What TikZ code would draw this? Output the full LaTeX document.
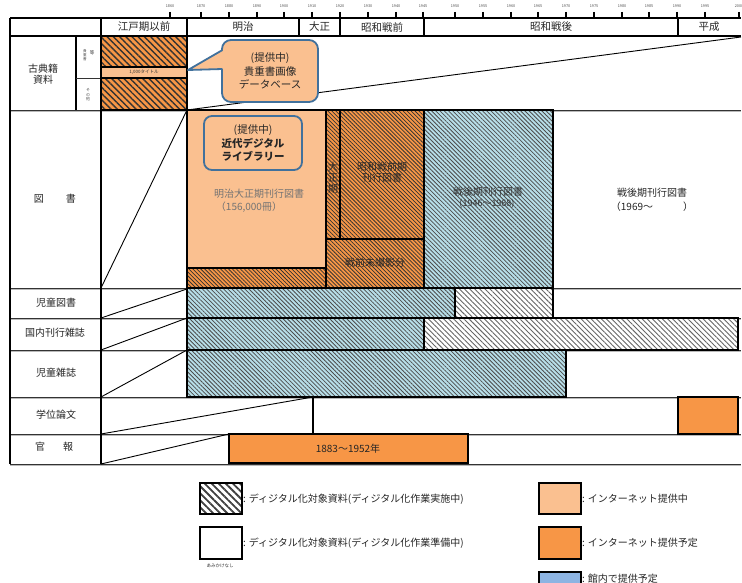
\documentclass[tikz,border=0pt]{standalone}
\usepackage{fontspec}
\setmainfont{Noto Sans CJK JP}
\usetikzlibrary{patterns.meta}
\definecolor{orD}{HTML}{F79646}
\definecolor{orL}{HTML}{FAC090}
\definecolor{blH}{HTML}{B7DEE8}
\definecolor{blL}{HTML}{8DB4E2}
\definecolor{bdB}{HTML}{41719C}
\begin{document}
\begin{tikzpicture}[x=1pt,y=-1pt,
 every node/.style={inner sep=0pt,outer sep=0pt},
 tx/.style={font=\fontsize{10}{11.5}\selectfont,text=black!85,align=center},
 tk/.style={font=\fontsize{3.8}{4}\selectfont,text=black!70},
 small/.style={font=\fontsize{4.5}{5}\selectfont,text=black!80,align=center},
 bx/.style={draw=black,line width=1.3pt},
 hline/.style={draw=black,line width=1.4pt},
 vline/.style={draw=black,line width=1.3pt},
 sep/.style={draw=black!80,line width=0.7pt},
 sepg/.style={draw=gray!55,line width=1.4pt},
 tickline/.style={draw=black,line width=1.1pt},
 orh/.style={bx,preaction={fill=orD},pattern={Lines[angle=-45,distance=2.8pt,line width=0.75pt]},pattern color=black!80},
 orhb/.style={bx,preaction={fill=orD},pattern={Lines[angle=-45,distance=4.4pt,line width=1.4pt]},pattern color=black!80},
 blh/.style={bx,preaction={fill=blH},pattern={Lines[angle=-45,distance=3pt,line width=0.8pt]},pattern color=black!70},
 whh/.style={bx,preaction={fill=white},pattern={Lines[angle=-45,distance=3.6pt,line width=0.9pt]},pattern color=black!60},
 lgh/.style={bx,preaction={fill=white},pattern={Lines[angle=-45,distance=5pt,line width=1.8pt]},pattern color=black!75},
 diag/.style={draw=black,line width=0.9pt},
 callout/.style={draw=bdB,line width=1.8pt,fill=orL,rounded corners=9pt,align=center,font=\fontsize{10.5}{13.5}\selectfont,text=black!85},
]
\useasboundingbox[fill=white] (0,0) rectangle (742,583);

% ticks
\foreach \x/\yr in {170/1860,201/1870,229/1880,257/1890,284/1900,312/1910,340/1920,368/1930,396/1940,423/1945,455/1950,483/1955,511/1960,538/1965,566/1970,594/1975,622/1980,649/1985,677/1990,705/1995,739/2000}{
  \draw[tickline] (\x,12) -- (\x,18);
  \node[tk] (t\yr) at (\x,6) {\yr};
}

% row separators
\foreach \y in {110,288,318,350,397,434,464}{
  \draw[sepg] (10,\y+1.6) -- (741,\y+1.6);
  \draw[sep] (10,\y) -- (741,\y);
}

% header
\draw[hline] (10,18) -- (741,18);
\draw[hline] (10,36) -- (741,36);
\foreach \x in {187,299,340,424,678}{\draw[vline] (\x,18) -- (\x,36);}
\node[tx,font=\fontsize{10.5}{12}\selectfont] (h1) at (144,27) {江戸期以前};
\node[tx,font=\fontsize{10.5}{12}\selectfont] (h2) at (243,27) {明治};
\node[tx,font=\fontsize{10.5}{12}\selectfont] (h3) at (319.5,27) {大正};
\node[tx,font=\fontsize{10.5}{12}\selectfont] (h4) at (382,27) {昭和戦前};
\node[tx,font=\fontsize{10.5}{12}\selectfont] (h5) at (551,27) {昭和戦後};
\node[tx,font=\fontsize{10.5}{12}\selectfont] (h6) at (709,27) {平成};

% 古典籍
\draw[orhb] (101,36) rectangle (187,67);
\draw[bx,fill=orL] (101,67) rectangle (187,78);
\draw[orhb] (101,78) rectangle (187,110);
\node[small] (kt) at (144,72.5) {1,000タイトル};
\draw[vline] (76,36) -- (76,110);
\draw[sep] (76,78.5) -- (101,78.5);
\node[font=\fontsize{3.6}{4}\selectfont,text=black!70,align=center] (kc1) at (85,55) {貴\\重\\書};
\node[font=\fontsize{4.5}{5}\selectfont,text=black!80] (kc2) at (92,53) {等};
\node[font=\fontsize{4}{4.5}\selectfont,text=black!70,align=center] (kc3) at (88,95) {そ\\の\\他};

% 図書 row
\draw[bx,fill=orL] (187,110) rectangle (326,268);
\draw[orh] (187,268) rectangle (326,288);
\draw[orh] (326,110) rectangle (340,239);
\draw[orh] (340,110) rectangle (424,239);
\draw[orh] (326,239) rectangle (424,288);
\draw[blh] (424,110) rectangle (553,288);

% 児童図書
\draw[blh] (187,288) rectangle (455,318);
\draw[whh] (455,288) rectangle (553,318);
% 国内刊行雑誌
\draw[blh] (187,318) rectangle (424,350);
\draw[whh] (424,318) rectangle (738,350);
% 児童雑誌
\draw[blh] (187,350) rectangle (566,397);
% 学位論文
\draw[vline] (313,397) -- (313,434);
\draw[bx,fill=orD] (678,397) rectangle (738,434);
% 官報
\draw[bx,fill=orD] (229,434) rectangle (468,463);

% left frame
\draw[vline] (10,18) -- (10,464);
\draw[vline] (101,18) -- (101,464);

% diagonals
\draw[diag] (187,110) -- (741,37);
\draw[diag] (101,288) -- (187,110);
\draw[diag] (101,318) -- (187,289);
\draw[diag] (101,350) -- (187,318);
\draw[diag] (101,397) -- (187,350);
\draw[diag] (101,434) -- (313,397);
\draw[diag] (101,464) -- (229,434);

% callout 1
\node[callout,minimum width=96pt,minimum height=62pt] (cb1) at (270,71) {(提供中)\\貴重書画像\\データベース};
\coordinate (w1) at (188,70);
\coordinate (w2) at (222.5,50);
\coordinate (w3) at (222.5,69);
\fill[orL] (w1) -- (w2) -- ([xshift=4pt]w2) -- ([xshift=4pt]w3) -- (w3) -- cycle;
\draw[draw=bdB,line width=1.8pt,line join=round] (w2) -- (w1) -- (w3);

% callout 2
\node[callout,rounded corners=8pt,minimum width=98pt,minimum height=54pt] (cb2) at (253,143) {(提供中)\\\textbf{近代デジタル}\\\textbf{ライブラリー}};

% texts in 図書 row
\node[tx,text=black!55] (m1) at (259,194) {明治大正期刊行図書};
\node[tx,text=black!55] (m2) at (249,207) {（156,000冊）};
\node[tx,text=black!85,font=\fontsize{10}{11}\selectfont] (t1) at (333,178) {大\\正\\期};
\node[tx,text=black!85,font=\fontsize{10}{11}\selectfont] (s1) at (382,172) {昭和戦前期\\刊行図書};
\node[tx,text=black!85] (s2) at (375,263) {戦前未撮影分};
\node[tx,text=black!80] (b1) at (488,192) {戦後期刊行図書};
\node[tx,text=black!80,font=\fontsize{9}{11}\selectfont] (b2) at (487,204) {(1946～1968)};
\node[tx] (w1t) at (652,193) {戦後期刊行図書};
\node[tx] (w2t) at (652,207) {（1969～　　　）};
\node[tx] (kh) at (348,449) {1883～1952年};

% row labels
\node[tx] (r1) at (43,74) {古典籍\\資料};
\node[tx] (r2) at (55,199) {図\hspace{2.2em}書};
\node[tx] (r3) at (56,303) {児童図書};
\node[tx] (r4) at (55,333) {国内刊行雑誌};
\node[tx] (r5) at (56,373) {児童雑誌};
\node[tx] (r6) at (56,415) {学位論文};
\node[tx] (r7) at (54,447) {官\hspace{1.8em}報};

% legend
\draw[lgh] (200,483) rectangle (242,514);
\node[tx,anchor=west] (lg1) at (243,499) {: ディジタル化対象資料(ディジタル化作業実施中)};
\draw[bx,fill=white] (200,527) rectangle (242,559);
\node[tx,anchor=west] (lg2) at (243,543) {: ディジタル化対象資料(ディジタル化作業準備中)};
\node[small] (lg2s) at (220,566) {あみかけなし};
\draw[bx,fill=orL] (539,483) rectangle (581,514);
\node[tx,anchor=west] (lg3) at (582,499) {: インターネット提供中};
\draw[bx,fill=orD] (539,527) rectangle (581,559);
\node[tx,anchor=west] (lg4) at (582,543) {: インターネット提供予定};
\draw[bx,fill=blL] (539,572) rectangle (581,587);
\node[tx,anchor=west] (lg5) at (582,579) {: 館内で提供予定};
\end{tikzpicture}
\end{document}
